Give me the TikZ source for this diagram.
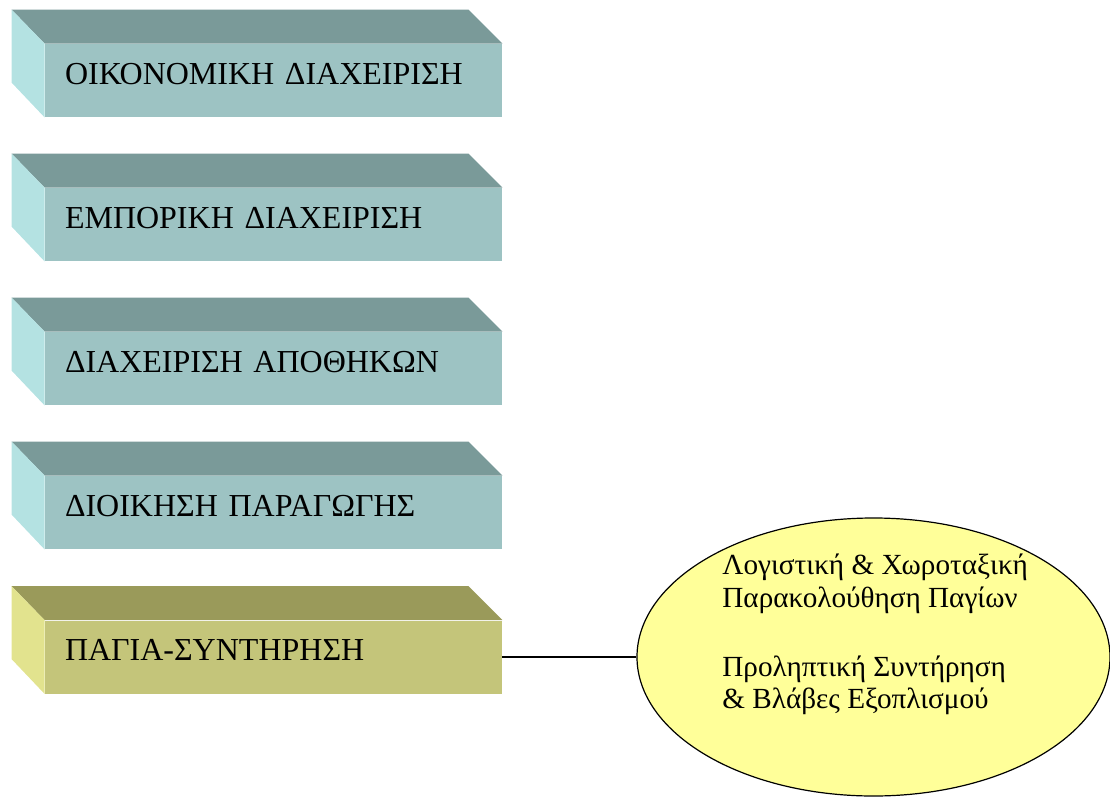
\documentclass[tikz,border=0pt]{standalone}
\usepackage{fontspec}
\setmainfont{Liberation Serif}
\usepackage{tikz}
\usetikzlibrary{shapes.geometric,calc}

\definecolor{tealfront}{HTML}{9DC3C3}
\definecolor{tealtop}{HTML}{7A9A99}
\definecolor{tealside}{HTML}{B4E2E2}
\definecolor{olivefront}{HTML}{C4C57A}
\definecolor{olivetop}{HTML}{9A9A5A}
\definecolor{oliveside}{HTML}{E2E38E}
\definecolor{noteyellow}{HTML}{FFFF99}

\begin{document}
\begin{tikzpicture}[
  x=0.5pt,y=-0.5pt,
  module/.style={rectangle,fill=tealfront,minimum width=228.5pt,
    text width=208.5pt,inner xsep=10pt,inner ysep=0pt,
    text height=20pt,text depth=16.5pt,align=left,
    font=\fontsize{16pt}{19pt}\selectfont},
  assets/.style={module,fill=olivefront},
  note/.style={ellipse,draw=black,line width=.6pt,fill=noteyellow,
    minimum width=236.5pt,minimum height=139pt,inner sep=0pt},
  notetext/.style={align=left,inner sep=0pt,anchor=north west,
    font=\fontsize{14.6pt}{16.3pt}\selectfont},
  link/.style={draw=black,line width=.6pt}
]
\useasboundingbox (0,0) rectangle (1110,798);

\node[module] (fin) at (273.5,80.5) {ΟΙΚΟΝΟΜΙΚΗ ΔΙΑΧΕΙΡΙΣΗ};
\node[module] (com) at (273.5,224.5) {ΕΜΠΟΡΙΚΗ ΔΙΑΧΕΙΡΙΣΗ};
\node[module] (wh) at (273.5,368.5) {ΔΙΑΧΕΙΡΙΣΗ ΑΠΟΘΗΚΩΝ};
\node[module] (prod) at (273.5,512.5) {ΔΙΟΙΚΗΣΗ ΠΑΡΑΓΩΓΗΣ};
\node[assets] (maint) at (273.5,657) {ΠΑΓΙΑ-ΣΥΝΤΗΡΗΣΗ};

% bevels: top face and left face of each box
\foreach \b/\t/\s in {fin/tealtop/tealside,com/tealtop/tealside,
    wh/tealtop/tealside,prod/tealtop/tealside,maint/olivetop/oliveside}{
  \fill[\t] (\b.north west) -- ++(-33,-34) -- ($(\b.north east)+(-34,-34)$)
    -- (\b.north east) -- cycle;
  \fill[\s] (\b.north west) -- ++(-33,-34) -- ++(0,73) -- (\b.south west)
    -- cycle;
}

\node[note] (ell) at (873.5,657) {};
\node[notetext] (elltext) at (722,554) {Λογιστική \& Χωροταξική\\
  Παρακολούθηση Παγίων\\[18pt]
  Προληπτική Συντήρηση\\
  \& Βλάβες Εξοπλισμού};

\draw[link] (maint.east) -- (ell.west);
\end{tikzpicture}
\end{document}
